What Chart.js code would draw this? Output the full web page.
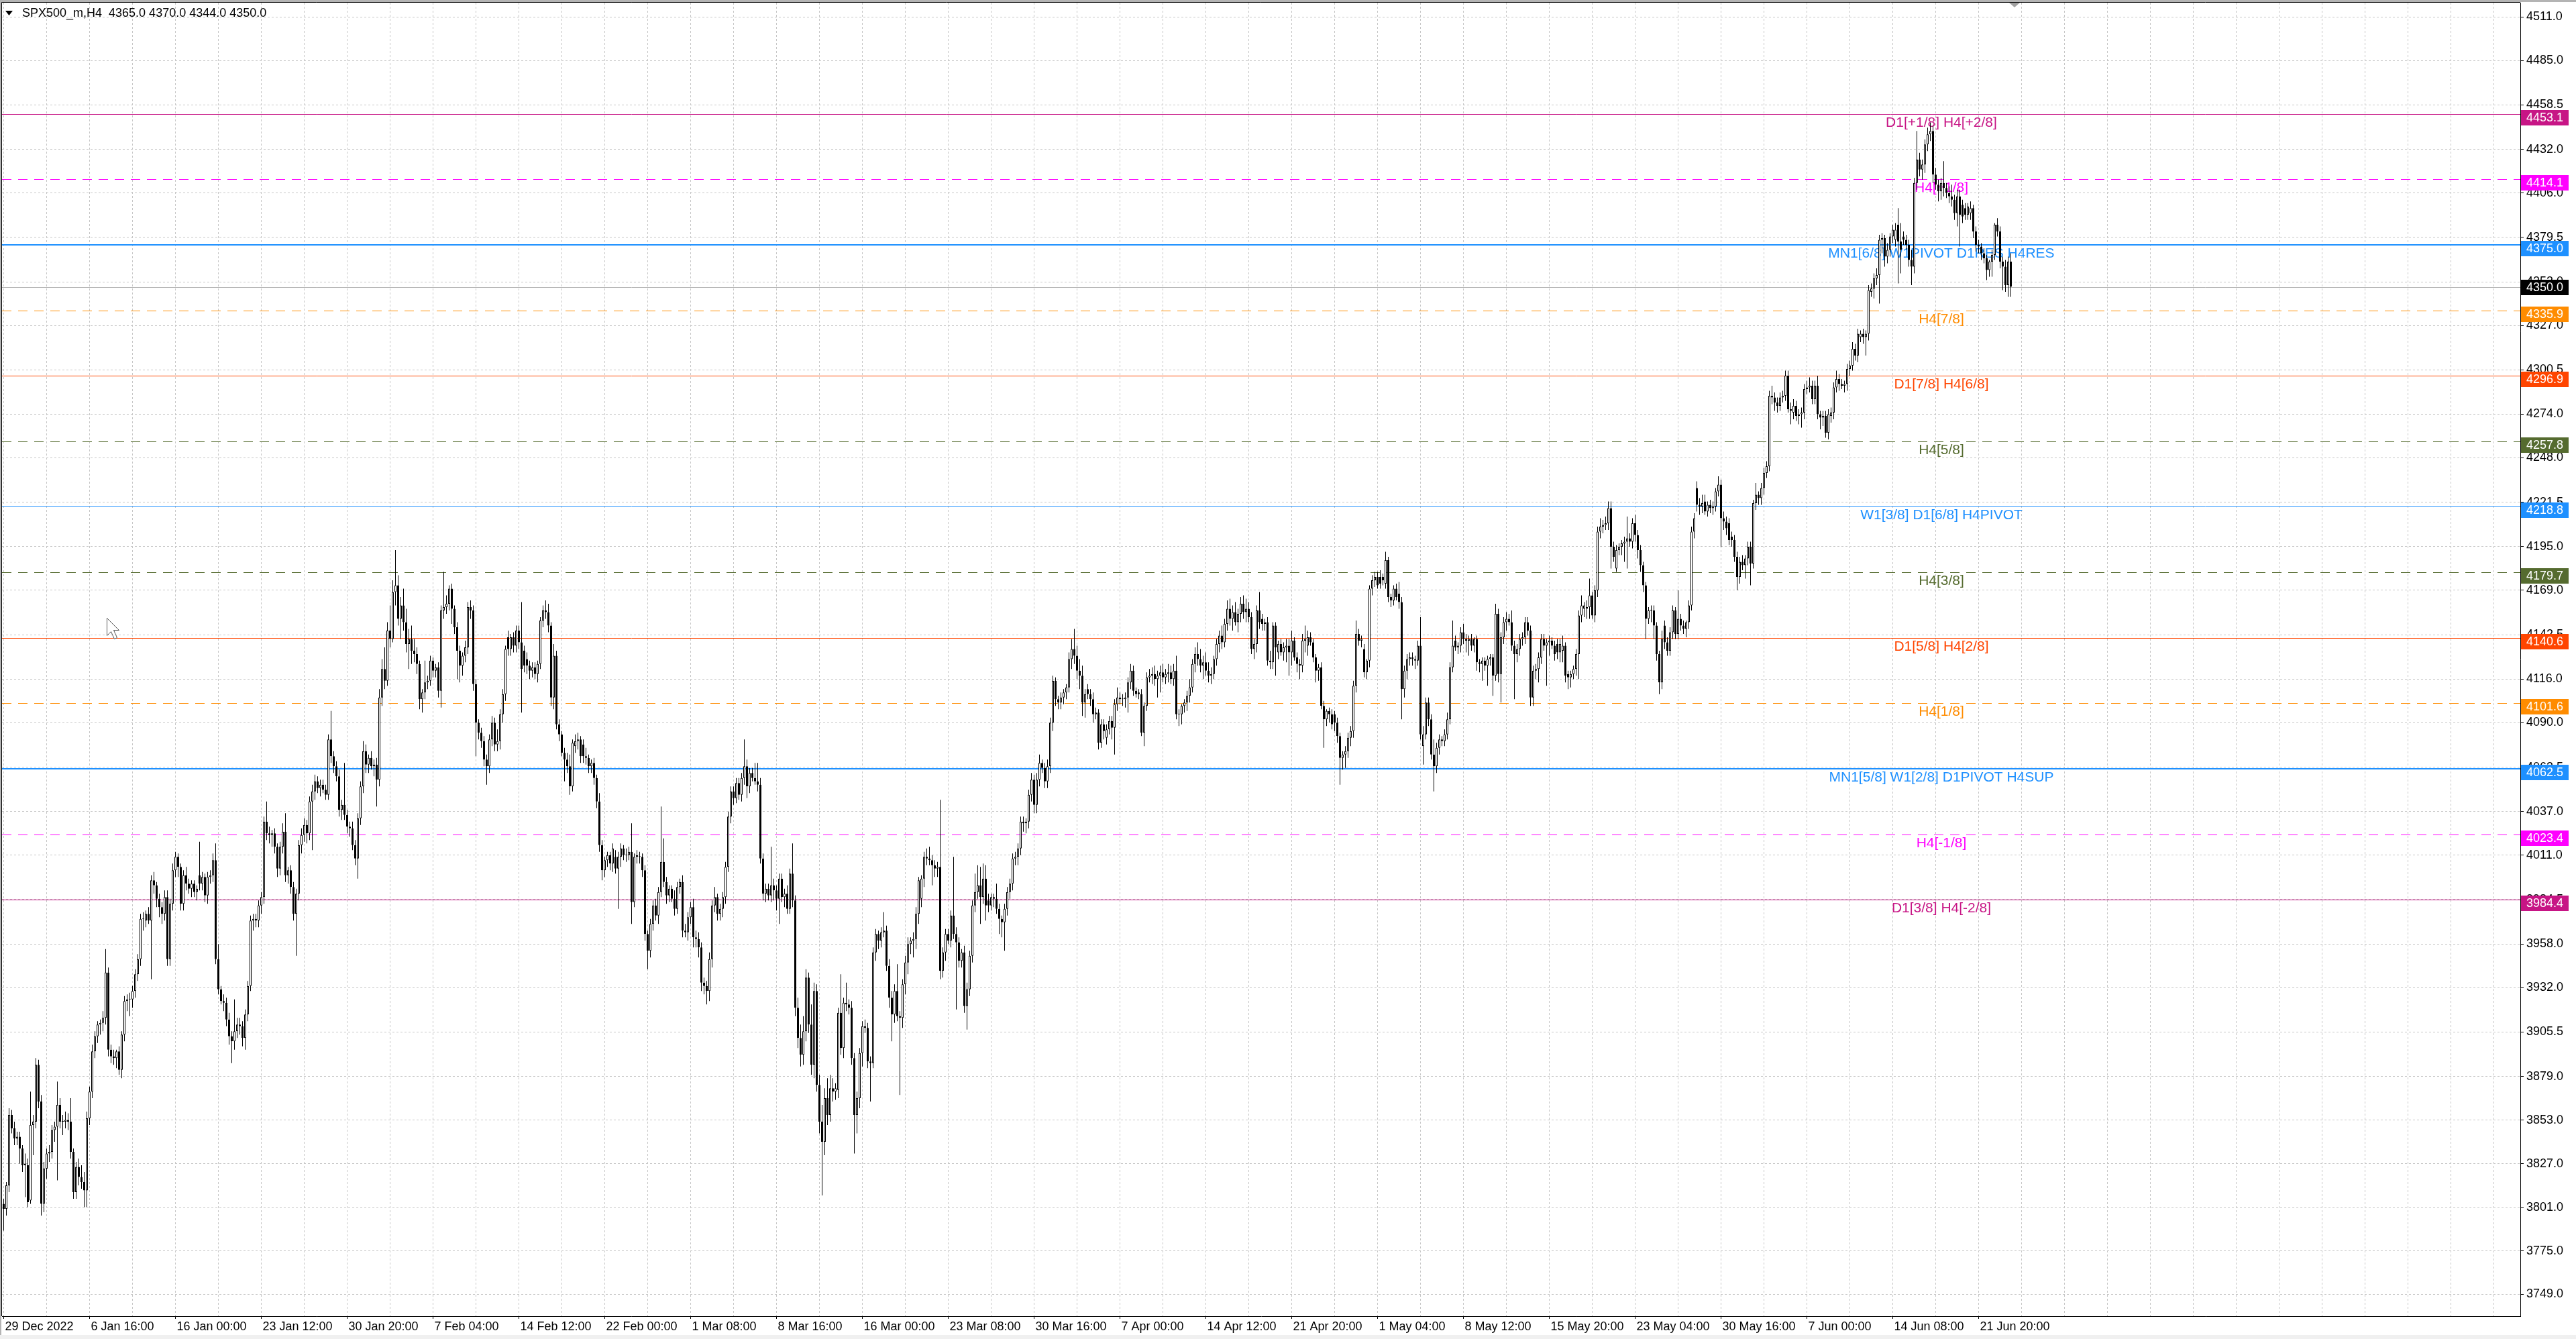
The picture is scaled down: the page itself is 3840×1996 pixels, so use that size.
<!DOCTYPE html>
<html>
<head>
<meta charset="utf-8">
<script src="https://cdn.jsdelivr.net/npm/chart.js@4.4.0/dist/chart.umd.min.js"></script>
<style>
html, body { margin: 0; padding: 0; background: #fff; overflow: hidden; }
canvas { display: block; }
</style>
</head>
<body>
<canvas id="chart" width="3840" height="1996"></canvas>
<script>
// SPX500_m H4 candles, 29 Dec 2022 .. 23 Jun 2023
const symbolTitle = 'SPX500_m,H4  4365.0 4370.0 4344.0 4350.0';

const opens = [
3803,3800,3814,3856,3848,3842,3843,3836,3826,3826,
3805,3850,3852,3886,3864,3803,3824,3833,3834,3847,
3849,3862,3852,3852,3853,3852,3834,3810,3825,3819,
3816,3811,3854,3870,3894,3903,3910,3911,3914,3941,
3895,3891,3890,3894,3883,3904,3924,3925,3925,3930,
3940,3949,3973,3972,3976,3972,3996,3993,3985,3980,
3976,3986,3949,3982,4002,4010,4004,3982,3999,3994,
3991,3994,3989,3999,3994,3998,3987,3998,3999,4008,
3949,3931,3924,3923,3913,3903,3900,3906,3910,3909,
3902,3916,3933,3972,3973,3972,3981,3986,4031,4024,
4023,4024,4016,4003,4016,4025,3999,4002,3992,3976,
3988,4017,4023,4029,4024,4043,4049,4055,4051,4053,
4050,4047,4080,4070,4064,4058,4038,4041,4035,4028,
4027,4017,4009,4033,4052,4073,4065,4069,4064,4065,
4056,4105,4122,4115,4145,4140,4168,4172,4152,4160,
4150,4137,4140,4133,4131,4125,4104,4108,4114,4115,
4127,4121,4123,4109,4157,4159,4161,4170,4158,4147,
4133,4124,4130,4135,4159,4157,4113,4090,4084,4079,
4068,4064,4080,4090,4077,4079,4095,4107,4141,4134,
4141,4136,4145,4138,4133,4128,4124,4121,4123,4119,
4125,4151,4157,4156,4148,4105,4130,4089,4083,4072,
4068,4064,4052,4076,4079,4080,4077,4070,4069,4064,
4066,4057,4043,4017,4002,4008,4011,4006,4010,4003,
4010,4015,4011,4011,4013,3983,4011,4010,4010,4002,
3964,3954,3970,3981,3975,3989,4007,3995,3987,3991,
3985,3979,3992,3995,3966,3965,3974,3980,3962,3961,
3956,3935,3933,3930,3949,3981,3986,3976,3979,3986,
4004,4034,4049,4045,4054,4047,4057,4064,4052,4060,
4057,4055,4053,4009,3988,3991,3987,3993,3990,3985,
3997,3986,3988,3979,4000,3984,3920,3902,3892,3906,
3938,3910,3886,3930,3874,3852,3840,3866,3856,3872,
3870,3871,3917,3896,3923,3922,3920,3890,3856,3866,
3893,3909,3908,3888,3887,3953,3964,3960,3965,3966,
3945,3926,3916,3930,3915,3914,3934,3947,3958,3960,
3961,3976,3985,3997,4010,4009,4008,4005,4003,4004,
3942,3953,3964,3960,3975,3964,3959,3948,3953,3921,
3931,3951,3981,3989,3993,3986,3997,3984,3981,3986,
3985,3979,3973,3971,3979,3989,3994,4009,4010,4015,
4031,4030,4031,4047,4056,4041,4056,4066,4063,4055,
4064,4090,4115,4104,4102,4105,4108,4111,4128,4134,
4130,4121,4118,4102,4110,4107,4104,4095,4096,4078,
4089,4081,4086,4091,4087,4101,4105,4104,4104,4105,
4114,4121,4109,4108,4107,4084,4100,4117,4118,4119,
4116,4118,4120,4117,4119,4120,4116,4121,4095,4095,
4100,4102,4106,4111,4125,4131,4128,4124,4126,4121,
4118,4119,4128,4137,4142,4138,4149,4158,4152,4156,
4150,4155,4161,4156,4158,4153,4134,4137,4157,4152,
4149,4150,4127,4126,4148,4132,4137,4132,4135,4136,
4132,4139,4129,4125,4124,4139,4136,4141,4138,4129,
4121,4123,4100,4092,4097,4095,4095,4090,4082,4069,
4071,4073,4081,4085,4112,4143,4139,4134,4120,4127,
4170,4175,4177,4177,4177,4173,4187,4165,4163,4170,
4167,4162,4110,4121,4128,4129,4128,4127,4136,4076,
4083,4102,4092,4071,4064,4075,4080,4079,4083,4092,
4123,4139,4135,4136,4144,4140,4139,4140,4136,4140,
4126,4125,4127,4124,4128,4129,4118,4155,4119,4141,
4150,4152,4150,4136,4131,4134,4140,4141,4150,4145,
4105,4121,4122,4129,4140,4136,4138,4139,4136,4137,
4132,4133,4136,4119,4117,4119,4122,4131,4154,4158,
4158,4159,4166,4154,4169,4204,4207,4208,4209,4218,
4195,4182,4193,4195,4197,4198,4200,4198,4209,4202,
4193,4184,4172,4152,4157,4157,4148,4131,4114,4148,
4138,4133,4144,4157,4143,4152,4148,4146,4150,4160,
4204,4230,4220,4219,4222,4216,4220,4218,4219,4228,
4232,4212,4210,4209,4201,4199,4189,4177,4186,4184,
4188,4195,4185,4221,4226,4224,4230,4239,4243,4285,
4284,4281,4279,4284,4285,4297,4277,4275,4279,4273,
4274,4275,4289,4290,4291,4283,4291,4274,4272,4273,
4263,4273,4275,4290,4295,4292,4291,4292,4301,4303,
4313,4309,4320,4322,4320,4322,4347,4349,4355,4357,
4378,4379,4368,4372,4380,4378,4387,4377,4380,4378,
4375,4366,4362,4412,4426,4420,4423,4435,4441,4443,
4417,4411,4407,4412,4409,4406,4404,4402,4394,4404,
4399,4397,4393,4394,4397,4383,4375,4374,4370,4367,
4360,4365,4369,4387,4383,4365,4362,4351,4365
];

const highs = [
3806,3816,3860,3859,3852,3846,3846,3838,3833,3830,
3870,3856,3890,3889,3868,3828,3836,3838,3850,3852,
3876,3866,3856,3858,3857,3866,3836,3828,3830,3826,
3822,3858,3873,3898,3906,3912,3913,3918,3955,3944,
3898,3895,3895,3897,3906,3927,3928,3929,3933,3943,
3952,3976,3977,3978,3980,3999,4001,3995,3988,3983,
3990,3990,3985,4006,4013,4012,4006,4002,4004,3997,
3996,3996,3993,4019,4001,4000,4001,4002,4012,4018,
3958,3933,3928,3926,3917,3906,3925,3914,3914,3912,
3919,3936,3975,3976,3976,3984,3989,4034,4043,4028,
4026,4027,4018,4019,4030,4036,4004,4005,3995,3991,
4020,4027,4033,4032,4046,4053,4059,4058,4056,4056,
4053,4083,4097,4073,4067,4062,4044,4066,4038,4031,
4031,4020,4036,4055,4079,4077,4071,4073,4068,4069,
4110,4128,4135,4150,4160,4175,4193,4178,4165,4170,
4158,4146,4148,4140,4135,4127,4110,4127,4118,4130,
4129,4125,4126,4160,4180,4166,4172,4173,4160,4150,
4136,4132,4139,4162,4163,4160,4116,4092,4087,4082,
4071,4083,4094,4093,4086,4098,4110,4136,4145,4143,
4144,4148,4148,4162,4136,4132,4127,4126,4126,4127,
4153,4160,4163,4161,4150,4137,4133,4092,4085,4075,
4072,4071,4080,4083,4084,4082,4080,4075,4071,4068,
4069,4059,4048,4020,4010,4013,4013,4018,4014,4013,
4018,4017,4015,4016,4030,4012,4014,4013,4012,4005,
3966,3973,3984,3985,3992,4040,4021,3998,3993,3993,
3990,3995,3997,3999,3970,3977,3983,3985,3966,3965,
3959,3938,3936,3953,3984,3992,3988,3982,3989,4007,
4037,4052,4052,4057,4057,4060,4080,4068,4063,4063,
4066,4066,4057,4012,3994,3994,4016,3997,3993,4000,
4000,3991,3993,4003,4018,3987,3926,3910,3915,3943,
3941,3922,3935,3934,3880,3862,3872,3878,3880,3878,
3875,3920,3940,3926,3935,3925,3924,3893,3870,3896,
3912,3913,3911,3891,3956,3967,3966,3968,3977,3969,
3949,3930,3934,3946,3918,3937,3951,3962,3962,3965,
3980,3998,3999,4013,4015,4016,4011,4008,4007,4044,
3956,3967,3967,3978,4010,3968,3962,3955,3957,3935,
3954,3984,4000,4005,4004,4006,4005,3988,3988,3988,
3994,3982,3975,3982,3992,3997,4012,4013,4018,4034,
4034,4033,4050,4060,4059,4060,4071,4068,4066,4068,
4093,4118,4117,4106,4108,4110,4113,4132,4140,4146,
4136,4128,4124,4110,4113,4110,4108,4099,4098,4092,
4092,4089,4094,4094,4104,4111,4108,4107,4108,4117,
4125,4124,4111,4110,4110,4102,4120,4122,4123,4124,
4121,4124,4125,4122,4125,4124,4125,4130,4098,4101,
4104,4109,4116,4128,4135,4138,4134,4130,4132,4126,
4123,4130,4140,4145,4148,4152,4163,4164,4160,4162,
4158,4165,4166,4164,4162,4156,4140,4160,4168,4155,
4152,4153,4133,4150,4150,4139,4140,4138,4140,4140,
4145,4141,4132,4128,4143,4148,4145,4144,4140,4131,
4125,4126,4103,4098,4099,4098,4097,4093,4084,4073,
4076,4084,4088,4115,4151,4146,4142,4137,4128,4172,
4178,4180,4180,4181,4179,4192,4189,4167,4172,4173,
4174,4165,4124,4131,4132,4132,4130,4139,4153,4088,
4105,4105,4095,4080,4078,4083,4082,4086,4096,4126,
4151,4142,4138,4147,4149,4143,4142,4143,4141,4142,
4128,4129,4129,4130,4131,4131,4161,4158,4144,4153,
4156,4155,4157,4139,4137,4143,4144,4153,4153,4148,
4124,4125,4132,4143,4143,4140,4142,4141,4139,4140,
4140,4142,4138,4121,4121,4124,4134,4157,4166,4162,
4163,4176,4168,4172,4207,4212,4211,4213,4222,4222,
4198,4196,4197,4199,4201,4213,4203,4212,4214,4205,
4196,4186,4174,4159,4160,4160,4150,4133,4145,4151,
4141,4147,4160,4159,4169,4155,4151,4151,4163,4207,
4215,4234,4224,4226,4226,4222,4223,4222,4230,4237,
4235,4216,4213,4212,4204,4202,4192,4189,4190,4190,
4198,4198,4223,4233,4228,4233,4242,4246,4288,4291,
4287,4284,4287,4288,4300,4300,4281,4283,4282,4277,
4278,4292,4294,4296,4294,4294,4297,4276,4276,4276,
4277,4278,4293,4300,4298,4295,4294,4304,4306,4317,
4316,4325,4324,4325,4324,4351,4352,4358,4361,4381,
4382,4381,4376,4382,4387,4388,4397,4388,4383,4381,
4378,4372,4415,4443,4430,4426,4438,4445,4448,4446,
4421,4414,4415,4425,4412,4410,4411,4405,4408,4408,
4402,4400,4400,4401,4399,4386,4378,4376,4373,4369,
4366,4372,4388,4391,4386,4368,4366,4368,4370
];

const lows = [
3787,3796,3810,3845,3838,3838,3827,3822,3807,3801,
3803,3832,3848,3860,3796,3798,3818,3828,3830,3840,
3817,3848,3844,3848,3847,3830,3806,3806,3814,3812,
3801,3801,3850,3866,3890,3899,3904,3906,3910,3891,
3887,3886,3884,3880,3878,3900,3918,3915,3920,3926,
3936,3945,3966,3968,3970,3937,3988,3980,3974,3970,
3972,3945,3945,3978,3998,3998,3978,3978,3990,3988,
3986,3986,3984,3990,3990,3983,3982,3994,3995,3946,
3928,3922,3918,3909,3898,3887,3895,3902,3904,3897,
3895,3912,3930,3966,3968,3968,3976,3982,4020,4018,
4016,4012,3998,3999,4012,3995,3994,3988,3972,3951,
3984,4012,4019,4018,4020,4014,4044,4048,4046,4048,
4044,4044,4066,4060,4055,4034,4032,4032,4024,4022,
4014,4005,3997,4029,4048,4060,4060,4062,4058,4040,
4052,4100,4110,4112,4135,4138,4160,4148,4140,4145,
4132,4122,4125,4126,4119,4098,4096,4104,4110,4112,
4117,4117,4105,4099,4152,4155,4157,4149,4143,4116,
4114,4118,4126,4131,4152,4109,4070,4080,4075,4064,
4053,4060,4076,4073,4073,4074,4090,4103,4130,4130,
4132,4132,4134,4096,4120,4119,4116,4117,4116,4114,
4122,4147,4152,4144,4100,4098,4086,4079,4070,4055,
4060,4047,4049,4072,4074,4066,4066,4065,4060,4060,
4053,4039,4013,3996,3998,4004,4002,4001,4000,3979,
4004,4008,4007,4008,3970,3980,4006,4006,3998,3960,
3943,3950,3966,3972,3970,3986,3992,3982,3983,3983,
3975,3976,3988,3962,3962,3960,3970,3956,3956,3950,
3930,3928,3922,3924,3944,3977,3972,3972,3974,3982,
4001,4030,4041,4042,4044,4043,4053,4045,4048,4055,
4053,4049,4006,3984,3983,3984,3983,3984,3978,3970,
3983,3980,3976,3976,3980,3915,3896,3885,3886,3900,
3905,3880,3878,3870,3845,3808,3832,3850,3852,3864,
3865,3866,3892,3890,3918,3916,3886,3833,3845,3860,
3885,3905,3884,3864,3884,3948,3955,3956,3962,3942,
3920,3900,3911,3912,3868,3908,3928,3940,3952,3950,
3955,3970,3980,3992,4005,4005,3993,3998,3998,3937,
3938,3948,3958,3956,3961,3919,3944,3944,3917,3907,
3927,3947,3977,3985,3970,3982,3972,3977,3978,3980,
3976,3964,3962,3954,3975,3985,3990,4005,4005,4011,
4025,4024,4027,4043,4036,4036,4052,4060,4051,4051,
4060,4085,4100,4098,4098,4101,4104,4108,4122,4125,
4116,4110,4094,4093,4104,4100,4090,4092,4074,4075,
4080,4077,4083,4080,4071,4097,4101,4100,4099,4096,
4110,4106,4105,4104,4082,4076,4097,4114,4113,4112,
4105,4108,4114,4113,4114,4113,4112,4092,4088,4089,
4096,4097,4102,4108,4120,4124,4120,4116,4118,4114,
4113,4116,4124,4132,4134,4135,4145,4148,4145,4148,
4144,4150,4152,4150,4150,4131,4128,4132,4146,4145,
4145,4124,4122,4122,4118,4128,4130,4127,4126,4118,
4124,4127,4120,4116,4120,4132,4130,4136,4126,4114,
4115,4098,4075,4088,4090,4086,4085,4078,4053,4062,
4063,4069,4076,4081,4108,4136,4135,4117,4116,4123,
4166,4171,4170,4170,4172,4170,4162,4159,4160,4163,
4158,4092,4105,4116,4124,4124,4122,4124,4080,4065,
4080,4088,4068,4049,4060,4071,4076,4076,4080,4089,
4120,4133,4131,4132,4137,4132,4130,4133,4132,4121,
4120,4115,4121,4112,4124,4106,4115,4114,4102,4137,
4145,4148,4133,4104,4126,4130,4136,4137,4142,4100,
4100,4116,4114,4125,4133,4112,4130,4134,4127,4128,
4126,4126,4114,4110,4111,4116,4118,4116,4150,4153,
4152,4152,4152,4150,4165,4200,4203,4205,4205,4182,
4186,4180,4190,4190,4186,4182,4195,4194,4198,4188,
4180,4168,4140,4149,4150,4140,4127,4107,4110,4134,
4130,4130,4140,4140,4140,4145,4143,4141,4146,4157,
4200,4216,4214,4215,4214,4213,4215,4214,4216,4225,
4195,4205,4202,4196,4195,4186,4169,4173,4181,4176,
4184,4172,4182,4217,4220,4220,4226,4236,4240,4280,
4276,4275,4276,4281,4282,4275,4268,4271,4270,4268,
4266,4271,4286,4287,4280,4280,4271,4265,4267,4260,
4259,4269,4271,4287,4288,4289,4287,4288,4297,4300,
4306,4305,4317,4316,4309,4318,4344,4343,4351,4340,
4370,4362,4364,4368,4376,4374,4352,4358,4375,4372,
4362,4351,4358,4408,4416,4414,4418,4431,4437,4412,
4408,4401,4402,4404,4403,4400,4398,4390,4386,4374,
4388,4390,4390,4390,4379,4371,4370,4366,4364,4354,
4356,4356,4366,4380,4361,4348,4347,4344,4344
];

const closes = [
3800,3814,3856,3848,3842,3843,3836,3826,3827,3804,
3850,3852,3886,3864,3803,3824,3833,3834,3847,3849,
3862,3852,3852,3853,3852,3834,3810,3825,3819,3816,
3811,3854,3870,3894,3903,3910,3911,3914,3941,3895,
3891,3890,3894,3883,3904,3924,3925,3925,3930,3940,
3949,3973,3973,3976,3972,3996,3993,3985,3980,3976,
3986,3949,3982,4002,4010,4004,3982,3999,3994,3991,
3994,3989,3991,3994,3998,3987,3998,3999,4008,3949,
3931,3924,3923,3913,3903,3900,3906,3910,3909,3902,
3916,3933,3972,3973,3972,3981,3986,4031,4024,4023,
4024,4016,4003,4016,4025,3999,4002,3992,3976,3988,
4017,4023,4029,4024,4043,4049,4055,4051,4053,4050,
4047,4080,4070,4064,4058,4038,4041,4035,4028,4027,
4017,4009,4033,4052,4073,4065,4069,4064,4065,4056,
4105,4122,4115,4145,4140,4168,4172,4152,4160,4150,
4137,4140,4133,4131,4125,4104,4108,4114,4115,4127,
4121,4123,4109,4157,4159,4161,4170,4158,4147,4133,
4124,4130,4135,4159,4157,4113,4090,4084,4079,4068,
4064,4080,4090,4077,4079,4095,4107,4134,4134,4141,
4136,4145,4138,4122,4124,4124,4121,4123,4119,4125,
4151,4157,4156,4148,4105,4130,4089,4083,4072,4068,
4064,4052,4078,4079,4080,4070,4070,4069,4064,4066,
4057,4043,4017,4002,4008,4011,4006,4015,4003,4010,
4015,4011,4011,4013,3983,4010,4010,4010,4002,3964,
3954,3970,3981,3975,3989,4007,3995,3987,3991,3985,
3979,3992,3995,3966,3965,3974,3980,3962,3961,3956,
3935,3933,3930,3949,3981,3986,3976,3979,3986,4004,
4034,4049,4045,4054,4047,4057,4064,4052,4060,4057,
4055,4053,4009,3988,3991,3987,3993,3990,3985,3997,
3986,3988,3979,4000,3984,3920,3902,3892,3906,3938,
3910,3886,3930,3874,3852,3840,3866,3856,3872,3870,
3872,3917,3896,3923,3922,3920,3890,3856,3866,3893,
3909,3908,3888,3887,3953,3964,3960,3965,3966,3945,
3926,3916,3930,3915,3914,3934,3947,3958,3960,3961,
3976,3996,3997,4010,4009,4008,4005,4003,4004,3942,
3953,3964,3960,3975,3964,3959,3948,3953,3921,3931,
3951,3981,3989,3993,3986,3997,3981,3981,3986,3985,
3979,3973,3971,3979,3989,3994,4009,4010,4015,4031,
4030,4031,4047,4056,4041,4056,4066,4063,4055,4064,
4090,4115,4104,4102,4105,4108,4111,4128,4134,4130,
4121,4118,4102,4107,4107,4104,4095,4096,4078,4089,
4085,4086,4091,4087,4101,4105,4104,4104,4105,4114,
4121,4109,4107,4107,4084,4100,4117,4118,4119,4116,
4118,4120,4117,4119,4120,4116,4121,4095,4095,4100,
4102,4106,4111,4125,4131,4128,4124,4126,4121,4118,
4119,4128,4137,4142,4138,4149,4158,4152,4156,4150,
4155,4161,4156,4158,4153,4134,4137,4157,4150,4149,
4150,4127,4126,4148,4135,4137,4132,4135,4136,4132,
4139,4129,4125,4124,4139,4140,4141,4138,4129,4121,
4123,4100,4092,4097,4095,4089,4090,4082,4069,4071,
4073,4081,4085,4112,4143,4139,4140,4120,4127,4170,
4175,4177,4172,4173,4175,4187,4165,4163,4170,4165,
4162,4110,4121,4128,4129,4128,4127,4136,4083,4083,
4102,4092,4071,4064,4075,4080,4079,4083,4092,4123,
4136,4135,4136,4144,4140,4139,4140,4136,4140,4126,
4125,4127,4124,4128,4129,4118,4155,4119,4141,4150,
4152,4150,4136,4131,4134,4140,4141,4150,4145,4105,
4121,4122,4129,4140,4136,4138,4139,4136,4131,4132,
4137,4136,4118,4117,4119,4122,4131,4154,4160,4160,
4159,4166,4154,4169,4204,4207,4208,4209,4218,4195,
4189,4193,4195,4197,4198,4200,4198,4209,4202,4193,
4184,4172,4152,4157,4157,4148,4131,4114,4140,4138,
4133,4144,4157,4143,4152,4148,4146,4150,4160,4204,
4212,4220,4219,4221,4216,4220,4218,4219,4228,4232,
4212,4210,4206,4199,4199,4189,4177,4186,4184,4188,
4195,4185,4221,4226,4224,4230,4239,4243,4285,4284,
4281,4279,4284,4285,4297,4277,4276,4279,4273,4274,
4275,4289,4290,4291,4283,4291,4274,4272,4273,4263,
4274,4275,4290,4295,4292,4291,4292,4301,4303,4313,
4309,4322,4322,4320,4322,4348,4349,4355,4357,4378,
4379,4368,4372,4380,4384,4384,4377,4372,4378,4375,
4366,4362,4412,4426,4420,4423,4435,4441,4443,4417,
4411,4407,4412,4409,4406,4404,4402,4394,4404,4393,
4392,4393,4398,4397,4383,4375,4374,4370,4367,4360,
4365,4369,4387,4383,4365,4362,4351,4365,4350
];

// one label every 32 bars
const dateLabels = ['29 Dec 2022', '6 Jan 16:00', '16 Jan 00:00', '23 Jan 12:00', '30 Jan 20:00',
  '7 Feb 04:00', '14 Feb 12:00', '22 Feb 00:00', '1 Mar 08:00', '8 Mar 16:00', '16 Mar 00:00',
  '23 Mar 08:00', '30 Mar 16:00', '7 Apr 00:00', '14 Apr 12:00', '21 Apr 20:00', '1 May 04:00',
  '8 May 12:00', '15 May 20:00', '23 May 04:00', '30 May 16:00', '7 Jun 00:00', '14 Jun 08:00',
  '21 Jun 20:00'];

const priceTicks = [4511.0, 4485.0, 4458.5, 4432.0, 4406.0, 4379.5, 4353.0, 4327.0, 4300.5, 4274.0,
  4248.0, 4221.5, 4195.0, 4169.0, 4142.5, 4116.0, 4090.0, 4063.5, 4037.0, 4011.0, 3984.5, 3958.0,
  3932.0, 3905.5, 3879.0, 3853.0, 3827.0, 3801.0, 3775.0, 3749.0];

// Murrey math levels
const levelPrices = [4453.1, 4414.1, 4375.0, 4335.9, 4296.9, 4257.8, 4218.8, 4179.7, 4140.6, 4101.6, 4062.5, 4023.4, 3984.4];
const levelNames = ['D1[+1/8] H4[+2/8]', 'H4[+1/8]', 'MN1[6/8] W1PIVOT D1RES H4RES', 'H4[7/8]',
  'D1[7/8] H4[6/8]', 'H4[5/8]', 'W1[3/8] D1[6/8] H4PIVOT', 'H4[3/8]', 'D1[5/8] H4[2/8]', 'H4[1/8]',
  'MN1[5/8] W1[2/8] D1PIVOT H4SUP', 'H4[-1/8]', 'D1[3/8] H4[-2/8]'];
const lastPrice = 4350.0;

// styles
const levelColors = ['#C71585', '#FF00FF', '#1E90FF', '#FF8C00', '#FF4500', '#556B2F', '#1E90FF',
  '#556B2F', '#FF4500', '#FF8C00', '#1E90FF', '#FF00FF', '#C71585'];
const levelDashed = [false, true, false, true, false, true, false, true, false, true, false, true, false];
const levelWidths = [1, 1, 2, 1, 1, 1, 1, 1, 1, 1, 2, 1, 1];

const FONT = '"Liberation Sans", Arial, sans-serif';
const n = Math.min(opens.length, highs.length, lows.length, closes.length);
const idx = Array.from({length: n}, (_, i) => i);
const xTicks = [];
for (let v = 0; v <= 928; v += 16) xTicks.push(v);

function isLabelTick(v) {
  return v % 32 === 0 && v / 32 < dateLabels.length;
}

const mt4Plugin = {
  id: 'mt4',
  beforeDraw(chart) {
    const {ctx, width, height} = chart;
    ctx.save();
    ctx.fillStyle = '#fff';
    ctx.fillRect(0, 0, width, height);
    ctx.fillStyle = '#b4b4b4';
    ctx.fillRect(0, 0, width, 3);
    ctx.fillRect(0, 0, 2, height);
    ctx.fillStyle = '#f0f0f0';
    ctx.fillRect(0, 1990, width, height - 1990);
    ctx.restore();
  },
  beforeDatasetsDraw(chart) {
    const {ctx, chartArea: a} = chart;
    const y = chart.scales.y;
    ctx.save();
    ctx.beginPath();
    ctx.rect(a.left, a.top, a.right - a.left, a.bottom - a.top);
    ctx.clip();
    // bid line
    const by = Math.round(y.getPixelForValue(lastPrice)) + 0.5;
    ctx.strokeStyle = '#b4b4b4';
    ctx.lineWidth = 1;
    ctx.beginPath(); ctx.moveTo(a.left, by); ctx.lineTo(a.right, by); ctx.stroke();
    levelPrices.forEach((p, k) => {
      const w = levelWidths[k];
      const py = w % 2 ? Math.round(y.getPixelForValue(p)) + 0.5 : Math.round(y.getPixelForValue(p));
      ctx.strokeStyle = levelColors[k];
      ctx.lineWidth = w;
      ctx.setLineDash(levelDashed[k] ? [14, 10] : []);
      ctx.beginPath(); ctx.moveTo(a.left, py); ctx.lineTo(a.right, py); ctx.stroke();
      ctx.setLineDash([]);
      ctx.fillStyle = levelColors[k];
      ctx.font = '21px ' + FONT;
      ctx.textAlign = 'center';
      ctx.textBaseline = 'middle';
      ctx.fillText(levelNames[k], 2894, py + 13);
    });
    ctx.restore();
  },
  afterDraw(chart) {
    const {ctx, chartArea: a} = chart;
    const y = chart.scales.y;
    ctx.save();
    // frame top/left
    ctx.strokeStyle = '#000';
    ctx.lineWidth = 1;
    ctx.beginPath();
    ctx.moveTo(2.5, a.bottom); ctx.lineTo(2.5, 3.5); ctx.lineTo(a.right, 3.5);
    ctx.stroke();
    // price tags on the axis: level tags sit a little below their line, the bid tag is centred
    const tags = levelPrices.concat([lastPrice]);
    const tagColors = levelColors.concat(['#000']);
    ctx.font = '18px ' + FONT;
    ctx.textAlign = 'left';
    ctx.textBaseline = 'middle';
    tags.forEach((p, k) => {
      const shift = k < levelPrices.length ? 5 : 0;
      const py = Math.round(y.getPixelForValue(p)) + shift;
      ctx.fillStyle = tagColors[k];
      ctx.fillRect(a.right + 1, py - 11, 71, 23);
      ctx.fillStyle = '#fff';
      ctx.fillText(p.toFixed(1), a.right + 9, py + 1);
    });
    // header
    ctx.fillStyle = '#000';
    ctx.beginPath();
    ctx.moveTo(8, 16); ctx.lineTo(19, 16); ctx.lineTo(13.5, 23); ctx.closePath();
    ctx.fill();
    ctx.fillText(symbolTitle, 33, 20);
    // chart shift marker
    ctx.fillStyle = '#a0a0a0';
    ctx.beginPath();
    ctx.moveTo(2995, 4); ctx.lineTo(3011, 4); ctx.lineTo(3003, 11); ctx.closePath();
    ctx.fill();
    // mouse pointer
    ctx.fillStyle = '#fff';
    ctx.strokeStyle = '#555';
    ctx.beginPath();
    ctx.moveTo(159.5, 921.5); ctx.lineTo(159.5, 947.5); ctx.lineTo(165.5, 941.5); ctx.lineTo(170.5, 952.5);
    ctx.lineTo(174.5, 950.5); ctx.lineTo(169.5, 939.5); ctx.lineTo(177.5, 939.5); ctx.closePath();
    ctx.fill(); ctx.stroke();
    ctx.restore();
  }
};

new Chart(document.getElementById('chart'), {
  type: 'bar',
  data: {
    datasets: [
      {
        label: 'body',
        data: idx.map(i => ({x: i, y: [opens[i], closes[i]]})),
        order: 0,
        grouped: false,
        barThickness: 3,
        borderWidth: 1,
        borderColor: '#000',
        borderSkipped: false,
        minBarLength: 1,
        inflateAmount: 0,
        backgroundColor: c => closes[c.dataIndex] >= opens[c.dataIndex] ? '#fff' : '#000'
      },
      {
        label: 'range',
        data: idx.map(i => ({x: i, y: [lows[i], highs[i]]})),
        order: 1,
        grouped: false,
        barThickness: 1,
        borderWidth: 0,
        inflateAmount: 0,
        backgroundColor: '#000'
      }
    ]
  },
  options: {
    responsive: false,
    animation: false,
    devicePixelRatio: 1,
    layout: { padding: { left: 3, top: 4, right: 0, bottom: 0 } },
    plugins: { legend: { display: false }, tooltip: { enabled: false } },
    scales: {
      x: {
        type: 'linear',
        min: -0.625,
        max: 937.875,
        offset: false,
        grid: {
          offset: false,
          color: '#c6c6c6',
          lineWidth: 1,
          drawTicks: true,
          tickLength: 4,
          tickColor: c => (c.tick && isLabelTick(c.tick.value)) ? '#000' : 'rgba(0,0,0,0)'
        },
        border: { color: '#000', width: 1, dash: [3, 3] },
        ticks: {
          autoSkip: false,
          maxRotation: 0,
          align: 'start',
          labelOffset: 2,
          padding: 1,
          color: '#000',
          font: { family: FONT, size: 18 },
          callback: v => isLabelTick(v) ? dateLabels[v / 32] : ''
        },
        afterBuildTicks: s => { s.ticks = xTicks.map(v => ({value: v})); },
        afterFit: s => { s.height = 34; s.paddingLeft = 0; s.paddingRight = 0; }
      },
      y: {
        type: 'linear',
        position: 'right',
        min: 3736.0,
        max: 4519.5,
        beginAtZero: false,
        grid: {
          color: '#c6c6c6',
          lineWidth: 1,
          drawTicks: true,
          tickLength: 5,
          tickColor: '#000'
        },
        border: { color: '#000', width: 1, dash: [3, 3] },
        ticks: {
          autoSkip: false,
          padding: 4,
          color: '#000',
          font: { family: FONT, size: 18 },
          callback: v => Number(v).toFixed(1)
        },
        afterBuildTicks: s => { s.ticks = priceTicks.map(v => ({value: v})); },
        afterFit: s => { s.width = 83; s.paddingTop = 0; s.paddingBottom = 0; }
      }
    }
  },
  plugins: [mt4Plugin]
});
</script>
</body>
</html>
